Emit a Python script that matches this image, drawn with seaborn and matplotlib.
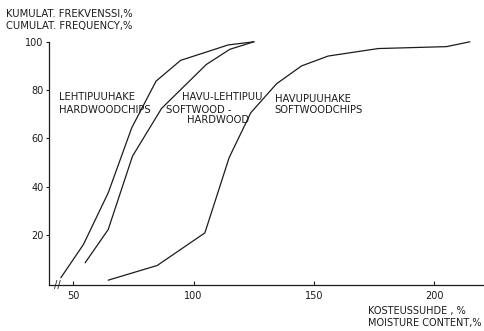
import matplotlib
matplotlib.use("Agg")
import matplotlib.pyplot as plt
import seaborn as sns
import pandas as pd

# Cumulative frequency of moisture content by chip type
hard_x = [44.8, 54.2, 64.5, 74.3, 84.4, 94.6, 114.4, 125.1]
hard_y = [2.2, 16.0, 37.4, 64.4, 83.7, 92.3, 98.7, 100.0]

mixed_x = [54.9, 64.5, 74.6, 86.7, 105.3, 115.1, 125.1]
mixed_y = [8.4, 22.2, 52.6, 72.4, 90.6, 96.9, 100.0]

soft_x = [64.5, 84.9, 104.7, 114.8, 123.8, 134.5, 144.9, 156.0, 176.8, 205.2, 214.9]
soft_y = [1.2, 7.3, 20.8, 52.0, 70.6, 82.6, 90.0, 94.1, 97.2, 98.0, 100.0]

x_ticks = [50, 100, 150, 200]
y_ticks = [20, 40, 60, 80, 100]

series = {
    "hard": (hard_x, hard_y),
    "mixed": (mixed_x, mixed_y),
    "soft": (soft_x, soft_y),
}
frames = []
for name, (xs, ys) in series.items():
    frames.append(pd.DataFrame({"moisture": xs, "freq": ys, "type": name}))
df = pd.concat(frames, ignore_index=True)

sns.set_theme(style="white")
plt.rcParams["font.family"] = ["DejaVu Sans"]

W, H = 485, 331
fig = plt.figure(figsize=(W / 100, H / 100), dpi=100)
ax = fig.add_axes([49.3 / W, 1 - 285 / H, 1 - 49.3 / W, (285 - 41.8) / H])

ink = "#1c1c1c"
sns.lineplot(data=df, x="moisture", y="freq", units="type", estimator=None,
             sort=False, color=ink, linewidth=0.9, ax=ax, legend=False)
for ln in ax.lines:
    ln.set_clip_on(False)

ax.set_xlim(40.0, 221.2)
ax.set_ylim(-0.8, 100)
ax.set_xticks(x_ticks)
ax.set_yticks(y_ticks)
ax.set_xlabel("")
ax.set_ylabel("")

for side in ("top", "right"):
    ax.spines[side].set_visible(False)
for side in ("left", "bottom"):
    ax.spines[side].set_color(ink)
    ax.spines[side].set_linewidth(0.9)

fs = 7.2
ax.tick_params(axis="x", direction="in", length=3, width=0.8, colors=ink,
               labelsize=7.0, pad=4)
ax.tick_params(axis="y", direction="out", length=2.5, width=0.8, colors=ink,
               labelsize=7.0, pad=1.5)
ax.xaxis.set_ticks_position("bottom")
ax.yaxis.set_ticks_position("left")

# axis break marks
ax.text(43.2, -0.8, "//", fontsize=fs, color=ink, ha="center", va="center",
        clip_on=False)

# curve labels
labels = [
    (44.1, 77.1, "LEHTIPUUHAKE"),
    (44.1, 71.6, "HARDWOODCHIPS"),
    (95.1, 77.1, "HAVU-LEHTIPUU"),
    (88.5, 71.6, "SOFTWOOD -"),
    (97.1, 67.6, "HARDWOOD"),
    (133.8, 76.2, "HAVUPUUHAKE"),
    (133.8, 71.6, "SOFTWOODCHIPS"),
]
for lx, ly, txt in labels:
    ax.text(lx, ly, txt, fontsize=fs, color=ink, ha="left", va="center")

# axis titles
fig.text(6 / W, 1 - 14.3 / H, "KUMULAT. FREKVENSSI,%", fontsize=fs, color=ink,
         ha="left", va="center")
fig.text(6 / W, 1 - 26.5 / H, "CUMULAT. FREQUENCY,%", fontsize=fs, color=ink,
         ha="left", va="center")
fig.text(368 / W, 1 - 311 / H, "KOSTEUSSUHDE , %", fontsize=7.0, color=ink,
         ha="left", va="center")
fig.text(368 / W, 1 - 322.7 / H, "MOISTURE CONTENT,%", fontsize=7.0, color=ink,
         ha="left", va="center")

fig.savefig("out.png", dpi=100, facecolor="white")
